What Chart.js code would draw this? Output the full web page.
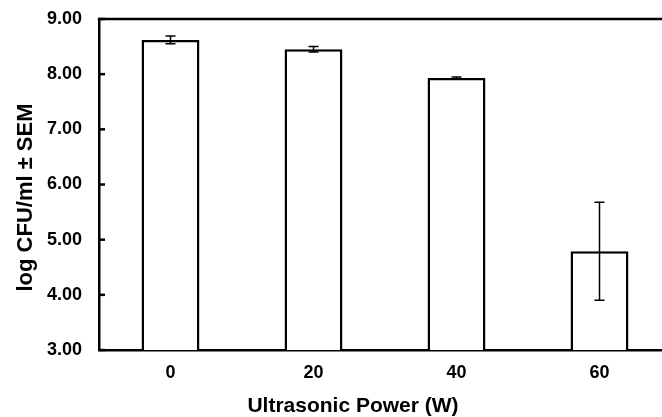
<!DOCTYPE html>
<html>
<head>
<meta charset="utf-8">
<script src="https://cdn.jsdelivr.net/npm/chart.js@4"></script>
<style>
  html, body { margin: 0; padding: 0; background: #fff; overflow: hidden; }
  #wrap { width: 672px; height: 417px; }
</style>
</head>
<body>
<div id="wrap"><canvas id="cfuChart"></canvas></div>
<script>
// 데이터
const powerLabels = ['0', '20', '40', '60'];
const logCfu = [8.62, 8.45, 7.93, 4.79];
const sem = [0.07, 0.05, 0.02, 0.89];
const yTicks = [3, 4, 5, 6, 7, 8, 9];
const xTitle = 'Ultrasonic Power (W)';
const yTitle = 'log CFU/ml ± SEM';

const FONT = "'Liberation Sans', Arial, sans-serif";

// 에러바 + 위쪽 테두리 + 안쪽 눈금 + 축 제목 (원본처럼 중앙에서 살짝 치우침)
const extrasPlugin = {
    id: 'extras',
    afterDatasetsDraw(chart) {
        const ctx = chart.ctx;
        const yScale = chart.scales.y;
        const meta = chart.getDatasetMeta(0);
        ctx.save();
        ctx.strokeStyle = '#000';
        ctx.lineWidth = 1.5;
        meta.data.forEach((bar, i) => {
            const x = bar.x;
            const yTop = yScale.getPixelForValue(logCfu[i] + sem[i]);
            const yBot = yScale.getPixelForValue(logCfu[i] - sem[i]);
            ctx.beginPath();
            ctx.moveTo(x, yTop); ctx.lineTo(x, yBot);
            ctx.moveTo(x - 5, yTop); ctx.lineTo(x + 5, yTop);
            ctx.moveTo(x - 5, yBot); ctx.lineTo(x + 5, yBot);
            ctx.stroke();
        });

        const area = chart.chartArea;
        ctx.lineWidth = 2.5;
        ctx.beginPath();
        ctx.moveTo(area.left - 1.25, area.top);
        ctx.lineTo(area.right + 2, area.top);
        ctx.stroke();

        yTicks.forEach(v => {
            const y = yScale.getPixelForValue(v);
            ctx.beginPath();
            ctx.moveTo(area.left, y);
            ctx.lineTo(area.left + 6, y);
            ctx.stroke();
        });

        ctx.fillStyle = '#000';
        ctx.textAlign = 'center';
        ctx.textBaseline = 'middle';
        ctx.font = `bold 21px ${FONT}`;
        ctx.fillText(xTitle, area.left + 254, 406);

        ctx.translate(26, (area.top + area.bottom) / 2 + 13);
        ctx.rotate(-Math.PI / 2);
        ctx.font = `bold 22px ${FONT}`;
        ctx.fillText(yTitle, 0, 0);
        ctx.restore();
    }
};

new Chart(document.getElementById('cfuChart').getContext('2d'), {
    type: 'bar',
    data: {
        labels: powerLabels,
        datasets: [{
            data: logCfu,
            backgroundColor: '#fff',
            borderColor: '#000',
            borderWidth: 2.5,
            categoryPercentage: 1,
            barPercentage: 0.405
        }]
    },
    options: {
        responsive: true,
        maintainAspectRatio: false,
        animation: false,
        layout: { padding: { top: 19, right: 1, left: 0, bottom: 0 } },
        plugins: { legend: { display: false }, tooltip: { enabled: false } },
        scales: {
            x: {
                grid: { display: false, drawTicks: false },
                border: { display: true, color: '#000', width: 2.5 },
                ticks: { color: '#000', padding: 12, font: { family: FONT, size: 18, weight: 'bold' } },
                afterFit(scale) { scale.height = 67; }
            },
            y: {
                min: 3,
                max: 9,
                grid: { display: false, drawTicks: false },
                border: { display: true, color: '#000', width: 2.5 },
                ticks: {
                    stepSize: 1,
                    color: '#000',
                    padding: 17,
                    font: { family: FONT, size: 18, weight: 'bold' },
                    callback: v => v.toFixed(2)
                },
                afterFit(scale) {
                    scale.width = 99;
                    scale.paddingTop = 0;
                    scale.paddingBottom = 0;
                }
            }
        }
    },
    plugins: [extrasPlugin]
});
</script>
</body>
</html>
